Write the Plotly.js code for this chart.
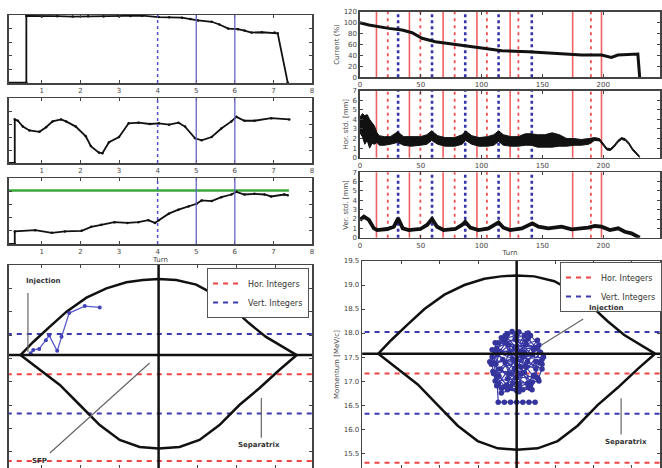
<!DOCTYPE html>
<html><head><meta charset="utf-8">
<script src="https://cdn.plot.ly/plotly-3.0.1.min.js"></script>
<style>html,body{margin:0;padding:0;background:#fff}#c{width:662px;height:468px}</style>
</head><body><div id="c"></div>
<script>
// ---------- data ----------
// top-left panels (turn axis 0..8)
const turn1 = [0, 0.6, 0.6, 1.0, 1.4, 1.8, 2.2, 2.6, 3.0, 3.3, 3.6, 4.03, 4.3, 4.63, 4.85, 5.05, 5.40, 5.6, 5.83, 6.08, 6.25, 6.43, 6.7, 7.03, 7.11, 7.37];
const val1  = [0, 0, 0.985, 0.978, 0.982, 0.976, 0.981, 0.978, 0.983, 0.986, 0.99, 0.97, 0.965, 0.96, 0.94, 0.92, 0.90, 0.86, 0.80, 0.79, 0.77, 0.74, 0.745, 0.74, 0.73, 0];
const turn2 = [0, 0.30, 0.30, 0.38, 0.51, 0.68, 0.94, 1.11, 1.28, 1.50, 1.63, 1.88, 2.14, 2.27, 2.48, 2.57, 2.74, 3.0, 3.25, 3.51, 3.8, 4.03, 4.3, 4.54, 4.71, 4.97, 5.14, 5.40, 5.65, 5.91, 6.04, 6.25, 6.51, 6.94, 7.41];
const val2  = [0, 0, 0.67, 0.65, 0.56, 0.50, 0.48, 0.55, 0.64, 0.67, 0.64, 0.56, 0.41, 0.26, 0.16, 0.15, 0.32, 0.40, 0.61, 0.62, 0.60, 0.61, 0.59, 0.62, 0.56, 0.38, 0.35, 0.40, 0.53, 0.64, 0.71, 0.65, 0.65, 0.69, 0.67];
const turn3 = [0, 0.30, 0.30, 0.83, 1.26, 1.60, 2.03, 2.28, 2.54, 2.88, 3.22, 3.50, 3.76, 3.93, 4.03, 4.29, 4.54, 4.80, 5.01, 5.14, 5.40, 5.65, 5.91, 6.04, 6.25, 6.51, 6.77, 6.94, 7.28, 7.37];
const val3  = [0, 0, 0.19, 0.21, 0.17, 0.19, 0.20, 0.26, 0.29, 0.33, 0.32, 0.33, 0.36, 0.32, 0.36, 0.46, 0.52, 0.57, 0.61, 0.66, 0.65, 0.71, 0.75, 0.79, 0.75, 0.76, 0.75, 0.72, 0.75, 0.74];
const turnG = [0, 7.4];
const valG  = [0.81, 0.81];
const leftDashed = [4];
const leftSolid  = [5, 6];
const leftTicks  = [1, 2, 3, 4, 5, 6, 7, 8];

// top-right panels (turn axis 0..250)
const turnC = [0, 7.4, 23.8, 34.7, 42.9, 51.1, 62, 75.7, 89.3, 103, 116.7, 138.5, 152, 165.8, 182.2, 198.6, 206.8, 212, 228.5, 230];
const current = [99.9, 95.6, 89.5, 86.5, 81.5, 71.3, 65.2, 60.9, 56, 51.8, 48.7, 46.9, 45.1, 42, 40.8, 40.8, 36.5, 40.8, 42.6, 0];
const turnH = [0, 2, 4, 6, 8, 10, 12, 14, 16, 20, 25, 31, 36, 42, 50, 55, 59, 64, 70, 78, 84, 87, 92, 98, 105, 110, 114, 118, 124, 130, 136, 141, 146, 152, 158, 164, 170, 176, 182, 188, 193, 197, 200, 203, 206, 209, 212, 215, 218, 221, 224, 227, 230];
const horUpper = [4.2, 4.6, 4.4, 4.5, 4.0, 3.6, 3.3, 2.6, 2.3, 2.2, 2.2, 2.7, 2.2, 2.2, 2.2, 2.4, 2.8, 2.3, 2.1, 2.1, 2.4, 2.8, 2.3, 2.1, 2.2, 2.4, 2.8, 2.4, 2.2, 2.2, 2.5, 2.5, 2.4, 2.4, 2.6, 2.4, 2.0, 2.0, 1.9, 2.0, 2.1, 2.0, 1.5, 1.0, 0.95, 1.3, 1.8, 2.1, 2.0, 1.6, 1.0, 0.6, 0.15];
const horLower = [2.6, 2.2, 1.4, 1.8, 1.0, 1.5, 1.4, 1.6, 1.3, 1.3, 1.4, 1.6, 1.3, 1.2, 1.3, 1.4, 1.8, 1.4, 1.2, 1.2, 1.4, 1.8, 1.4, 1.2, 1.2, 1.3, 1.7, 1.3, 1.2, 1.2, 1.3, 1.3, 1.1, 1.1, 1.1, 1.2, 1.2, 1.3, 1.3, 1.4, 1.8, 1.75, 1.3, 0.8, 0.75, 1.1, 1.6, 1.9, 1.8, 1.4, 0.8, 0.4, 0.0];
const turnV = [0, 3.3, 7.4, 11.5, 14.2, 22.4, 27.9, 31.4, 35.2, 40.2, 49.7, 55.2, 59.3, 63.4, 68.8, 78.4, 83.9, 86.6, 90.7, 97.5, 105.7, 111.2, 114, 118, 123.5, 133.1, 138.5, 141.8, 146.7, 154.9, 165.8, 174, 187.7, 193.2, 198.6, 205.5, 212.3, 217.8, 223.2, 230];
const verStd = [1.9, 2.25, 1.9, 1.0, 0.82, 0.93, 1.18, 2.07, 1.0, 0.82, 0.93, 1.36, 2.0, 1.18, 0.82, 0.93, 1.36, 1.71, 1.07, 0.82, 1.0, 1.36, 1.64, 1.07, 0.82, 1.0, 1.36, 1.54, 1.18, 1.0, 1.18, 0.89, 1.07, 1.25, 1.18, 0.82, 1.0, 0.64, 0.46, 0.0];
const redSolid  = [13.6, 40.7, 68.4, 96.2, 123.5, 174.9, 198.6];
const redDotted = [22.9, 49.7, 77.9, 104.4, 130.3, 189.9];
const blueDotted = [31.4, 59.3, 86.6, 114, 141.3];

// phase-space panels (phase in deg, momentum in MeV/c)
const sepUpPhase = [-180, -163.4, -141.7, -120, -94, -68, -42, -20.4, 0, 23, 49, 75, 96.6, 118, 140, 161.6, 180];
const sepUpMom   = [17.57, 17.85, 18.18, 18.50, 18.80, 19.00, 19.13, 19.18, 19.20, 19.18, 19.08, 18.85, 18.57, 18.25, 17.96, 17.75, 17.57];
const sepLoPhase = [-180, -154.7, -128.7, -102.7, -76.7, -50.7, -24.7, 0, 27.3, 53.3, 79.3, 105.3, 131.3, 157.3, 180];
const sepLoMom   = [17.57, 17.25, 16.93, 16.50, 16.07, 15.75, 15.60, 15.57, 15.60, 15.75, 16.07, 16.50, 16.86, 17.25, 17.57];
const horIntegers  = [17.16, 15.30];
const vertIntegers = [18.02, 16.32];
const syncMom = 17.57;
const trajPhase = [-166.7, -163.4, -155.6, -146.9, -142.6, -132.2, -126.5, -116.6, -96.2, -76.7];
const trajMom   = [17.61, 17.68, 17.70, 17.89, 17.99, 17.66, 17.96, 18.47, 18.62, 18.59];
const cloudPhase = [30, 26, 15, 0, -15, -26, -30, -26, -15, 0, 15, 26,
  25, 22, 12, -2, -14, -22, -27, -23, -13, 2, 14, 22,
  33, 29, 18, 3, -12, -24, -32, -31, -24, -12, 3, 17, 28, 33,
  14, 10, 0, -10, -15, -10, 0, 10, -5, 5, -3, 8, -20, 20, -28, 27,
  -20, 22, -28, 10, -8, 31, -33, 18, -18, 5, -25, 27, -12, 12, -30, 33, 0, -5, 20, -22,
  8, -15, 25, -32, 15, -3, 29, -26, 6, -10, -35, 35, -20, 20, -6, 12, -18, 3, 24, -28,
  -24, -16, -8, 0, 8, 16, 24];
const cloudMom = [17.38, 17.68, 17.88, 17.96, 17.88, 17.68, 17.38, 17.08, 16.88, 16.80, 16.88, 17.08,
  17.40, 17.65, 17.83, 17.88, 17.80, 17.62, 17.35, 17.10, 16.92, 16.88, 16.95, 17.12,
  17.45, 17.75, 17.95, 18.02, 17.97, 17.80, 17.50, 17.20, 16.95, 16.82, 16.78, 16.85, 17.05, 17.25,
  17.40, 17.60, 17.68, 17.58, 17.38, 17.15, 17.08, 17.18, 17.45, 17.30, 17.70, 17.50, 16.75, 16.98, 17.60, 17.70,
  17.90, 17.10, 17.00, 17.95, 16.85, 17.60, 17.35, 16.90, 17.85, 17.15, 17.55, 17.85, 17.05, 17.75, 17.15, 17.35, 17.85, 16.95, 17.55, 17.25,
  16.82, 17.95, 17.25, 17.65, 18.00, 17.25, 17.00, 16.90, 17.60, 17.75, 17.40, 17.50, 16.85, 16.82, 18.03, 17.30, 17.45, 16.95, 17.70, 17.80,
  16.56, 16.56, 16.56, 16.56, 16.56, 16.56, 16.56];
const momTicks = [15.5, 16.0, 16.5, 17.0, 17.5, 18.0, 18.5, 19.0, 19.5];

// ---------- figure ----------
const W = 662, H = 468;
const px = v => v / W, py = v => 1 - v / H;
const FONT = 'DejaVu Sans';
const FRAME = '#444';
const TXT = '#444';
const BLK = '#111';
const RED = '#ee4444', BLUE = '#3b3bb0';

function ax(extra) {
  return Object.assign({showline: true, mirror: 'ticks', linecolor: FRAME, linewidth: 1.5,
    ticks: 'inside', ticklen: 3, tickcolor: FRAME, showgrid: false, zeroline: false,
    tickfont: {size: 7, color: TXT, family: FONT}}, extra);
}

const traces = [];
function line(x, y, xa, ya, opt) {
  traces.push(Object.assign({x: x, y: y, xaxis: xa, yaxis: ya, type: 'scatter', mode: 'lines',
    showlegend: false, hoverinfo: 'skip'}, opt));
}
// top-left
line(turn1, val1, 'x', 'y', {mode: 'lines+markers', line: {color: BLK, width: 1.8}, marker: {size: 2.5, color: BLK}});
line(turn2, val2, 'x2', 'y2', {mode: 'lines+markers', line: {color: BLK, width: 1.8}, marker: {size: 2.5, color: BLK}});
line(turnG, valG, 'x3', 'y3', {line: {color: '#3aa83a', width: 2.5}});
line(turn3, val3, 'x3', 'y3', {mode: 'lines+markers', line: {color: BLK, width: 1.8}, marker: {size: 2.5, color: BLK}});
// top-right
line(turnC, current, 'x4', 'y4', {line: {color: BLK, width: 3}});
line(turnH, horLower, 'x5', 'y5', {line: {color: BLK, width: 1}});
line(turnH, horUpper, 'x5', 'y5', {line: {color: BLK, width: 1}, fill: 'tonexty', fillcolor: BLK});
line(turnV, verStd, 'x6', 'y6', {line: {color: BLK, width: 3.8}});
// phase space panels
[['x7', 'y7', 'legend'], ['x8', 'y8', 'legend2']].forEach(([xa, ya, lg]) => {
  horIntegers.forEach((m, i) => line([-250, 250], [m, m], xa, ya,
    {line: {color: RED, width: 2, dash: '5px,5px'}, name: 'Hor. Integers', showlegend: i === 0, legend: lg}));
  vertIntegers.forEach((m, i) => line([-250, 250], [m, m], xa, ya,
    {line: {color: BLUE, width: 2, dash: '5px,5px'}, name: 'Vert. Integers', showlegend: i === 0, legend: lg}));
  line(sepUpPhase, sepUpMom, xa, ya, {line: {color: BLK, width: 2.5}});
  line(sepLoPhase, sepLoMom, xa, ya, {line: {color: BLK, width: 2.5}});
});
line(trajPhase, trajMom, 'x7', 'y7', {mode: 'lines+markers', line: {color: '#5a5ad0', width: 1.3}, marker: {size: 4, color: '#4040b8'}});
line(cloudPhase, cloudMom, 'x8', 'y8', {mode: 'lines+markers', line: {color: '#3a3aa8', width: 1.2}, marker: {size: 5.5, color: '#34349c'}});

// shapes
const shapes = [];
['', '2', '3'].forEach(n => {
  leftDashed.forEach(t => shapes.push({type: 'line', xref: 'x' + n, yref: 'y' + n + ' domain', x0: t, x1: t, y0: 0, y1: 1,
    line: {color: '#5050d0', width: 1.5, dash: '3px,3px'}}));
  leftSolid.forEach(t => shapes.push({type: 'line', xref: 'x' + n, yref: 'y' + n + ' domain', x0: t, x1: t, y0: 0, y1: 1,
    line: {color: '#6464c4', width: 1.3}}));
});
['4', '5', '6'].forEach(n => {
  redSolid.forEach(t => shapes.push({type: 'line', xref: 'x' + n, yref: 'y' + n + ' domain', x0: t, x1: t, y0: 0, y1: 1,
    line: {color: '#f06060', width: 1.6}, layer: 'below'}));
  redDotted.forEach(t => shapes.push({type: 'line', xref: 'x' + n, yref: 'y' + n + ' domain', x0: t, x1: t, y0: 0, y1: 1,
    line: {color: '#f05050', width: 1.8, dash: '3px,4px'}, layer: 'below'}));
  blueDotted.forEach(t => shapes.push({type: 'line', xref: 'x' + n, yref: 'y' + n + ' domain', x0: t, x1: t, y0: 0, y1: 1,
    line: {color: '#3434a8', width: 2.6, dash: '3px,3px'}, layer: 'below'}));
});
['7', '8'].forEach(n => {
  shapes.push({type: 'line', xref: 'x' + n + ' domain', yref: 'y' + n, x0: 0, x1: 1, y0: syncMom, y1: syncMom, line: {color: BLK, width: 2.5}});
  shapes.push({type: 'line', xref: 'x' + n, yref: 'y' + n + ' domain', x0: 0, x1: 0, y0: 0, y1: 1, line: {color: BLK, width: 2.5}});
});
// annotation pointer lines
const ptr = (xa, ya, x0, y0, x1, y1) => shapes.push({type: 'line', xref: xa, yref: ya, x0: x0, y0: y0, x1: x1, y1: y1, line: {color: '#666', width: 1.2}});
ptr('x7', 'y7', -170.3, 18.90, -170.3, 17.64);
ptr('x7', 'y7', -141.7, 15.47, -11.7, 17.40);
ptr('x7', 'y7', 133.9, 16.65, 133.9, 15.80);
ptr('x8', 'y8', 86.6, 18.29, 32.4, 17.75);
ptr('x8', 'y8', 135.9, 16.64, 135.9, 15.89);

const annFont = {size: 7, color: '#333', family: FONT, weight: 'bold'};
const annotations = [
  {xref: 'x7', yref: 'y7', x: -170.3, y: 19.16, text: '<b>Injection</b>', showarrow: false, font: annFont, xanchor: 'left', xshift: -4},
  {xref: 'x7', yref: 'y7', x: -168, y: 15.30, text: '<b>SFP</b>', showarrow: false, font: annFont, xanchor: 'left'},
  {xref: 'x7', yref: 'y7', x: 109, y: 15.65, text: '<b>Separatrix</b>', showarrow: false, font: annFont, xanchor: 'left', xshift: -6},
  {xref: 'x8', yref: 'y8', x: 92, y: 18.52, text: '<b>Injection</b>', showarrow: false, font: annFont, xanchor: 'left'},
  {xref: 'x8', yref: 'y8', x: 112, y: 15.73, text: '<b>Separatrix</b>', showarrow: false, font: annFont, xanchor: 'left'},
];

const xdL = [px(9), px(313)], xdR = [px(361), 1];
const legendStyle = {bgcolor: '#fff', bordercolor: '#555', borderwidth: 1, traceorder: 'normal',
  font: {size: 8, color: '#333', family: FONT}, tracegroupgap: 0, itemwidth: 30};
const layout = {
  width: W, height: H, margin: {l: 0, r: 0, t: 0, b: 0}, paper_bgcolor: '#fff', plot_bgcolor: '#fff',
  font: {family: FONT, size: 7, color: TXT},
  xaxis:  ax({domain: xdL, range: [0.15, 8], tickvals: leftTicks, anchor: 'y'}),
  yaxis:  ax({domain: [py(83), py(15)], range: [-0.005, 1.0], showticklabels: false, dtick: 0.2, anchor: 'x'}),
  xaxis2: ax({domain: xdL, range: [0.15, 8], tickvals: leftTicks, anchor: 'y2'}),
  yaxis2: ax({domain: [py(163), py(98)], range: [0, 1], showticklabels: false, dtick: 0.2, anchor: 'x2'}),
  xaxis3: ax({domain: xdL, range: [0.15, 8], tickvals: leftTicks, anchor: 'y3',
    title: {text: 'Turn', font: {size: 7, color: TXT}, standoff: 2}}),
  yaxis3: ax({domain: [py(244), py(178)], range: [0, 1], showticklabels: false, dtick: 0.2, anchor: 'x3'}),
  xaxis4: ax({domain: xdR, range: [0, 246.7], dtick: 50, anchor: 'y4'}),
  yaxis4: ax({domain: [py(77.3), py(11.7)], range: [0, 120], dtick: 20, anchor: 'x4',
    title: {text: 'Current (%)', font: {size: 7, color: TXT}, standoff: 3}}),
  xaxis5: ax({domain: xdR, range: [0, 246.7], dtick: 50, anchor: 'y5'}),
  yaxis5: ax({domain: [py(157.7), py(90.7)], range: [0, 7], dtick: 1, anchor: 'x5',
    title: {text: 'Hor. std. [mm]', font: {size: 7, color: TXT}, standoff: 3}}),
  xaxis6: ax({domain: xdR, range: [0, 246.7], dtick: 50, anchor: 'y6',
    title: {text: 'Turn', font: {size: 7, color: TXT}, standoff: 1}}),
  yaxis6: ax({domain: [py(237.7), py(172.3)], range: [0, 7], dtick: 1, anchor: 'x6',
    title: {text: 'Ver. std. [mm]', font: {size: 7, color: TXT}, standoff: 3}}),
  xaxis7: ax({domain: xdL, range: [-195, 200], dtick: 50.7, tick0: 0, showticklabels: false, anchor: 'y7'}),
  yaxis7: ax({domain: [0, py(265)], range: [15.15, 19.5], tickvals: momTicks, showticklabels: false, anchor: 'x7'}),
  xaxis8: ax({domain: [px(363.3), 1], range: [-201, 186.5], dtick: 50, tick0: 0, showticklabels: false, anchor: 'y8'}),
  yaxis8: ax({domain: [0, py(261)], range: [15.19, 19.5], tickvals: momTicks, tickformat: '.1f', anchor: 'x8',
    title: {text: 'Momentum [MeV/c]', font: {size: 7, color: TXT}, standoff: 3}}),
  legend: Object.assign({x: px(310), xanchor: 'right', y: py(268), yanchor: 'top'}, legendStyle),
  legend2: Object.assign({x: px(562), xanchor: 'left', y: py(262), yanchor: 'top'}, legendStyle),
  shapes: shapes, annotations: annotations
};
Plotly.newPlot('c', traces, layout, {staticPlot: true, displayModeBar: false});
</script></body></html>
